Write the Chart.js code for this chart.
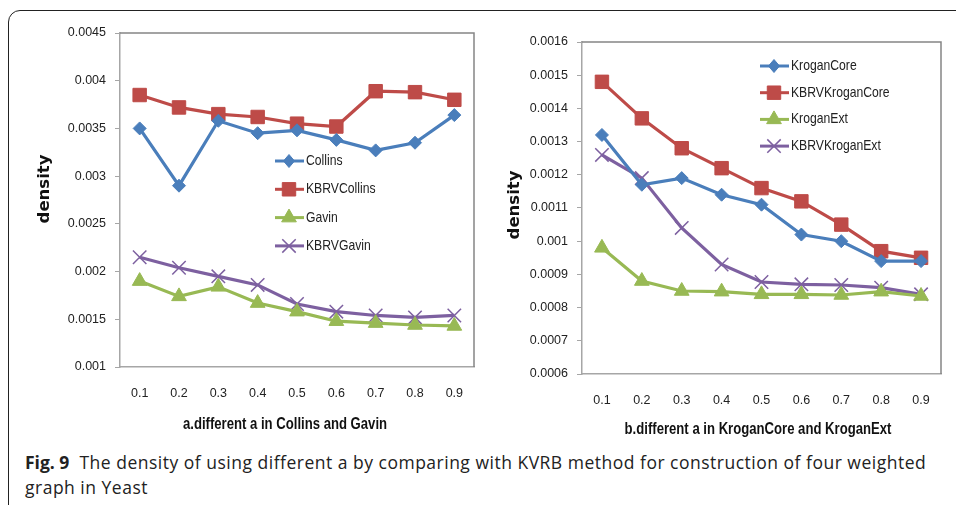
<!DOCTYPE html>
<html>
<head>
<meta charset="utf-8">
<script src="https://cdn.jsdelivr.net/npm/chart.js@4.4.1/dist/chart.umd.min.js"></script>
<style>
  body { margin: 0; width: 956px; height: 505px; overflow: hidden; background: #fff; position: relative; }
  #frame { position: absolute; left: 8px; top: 10px; width: 1000px; height: 600px; border: 1.5px solid #222; border-radius: 12px; }
  #left { position: absolute; left: 10px; top: 12px; }
  #right { position: absolute; left: 490px; top: 12px; }
  #caption { position: absolute; left: 25px; top: 450px; font-family: "Open Sans", sans-serif; font-size: 17.5px; line-height: 25px; color: #222; white-space: nowrap; letter-spacing: 0.5px; }
  #caption b { font-weight: 700; letter-spacing: 0; }
</style>
</head>
<body>
<div id="frame"></div>
<canvas id="left" width="475" height="430"></canvas>
<canvas id="right" width="462" height="436"></canvas>
<div id="caption"><b>Fig. 9</b>&nbsp; The density of using different a by comparing with KVRB method for construction of four weighted<br>graph in Yeast</div>
<script>
const aValues = ["0.1", "0.2", "0.3", "0.4", "0.5", "0.6", "0.7", "0.8", "0.9"];

const collins = [0.0035, 0.0029, 0.00358, 0.00345, 0.00348, 0.00338, 0.00327, 0.00335, 0.00364];
const kbrvCollins = [0.00385, 0.00372, 0.00365, 0.00362, 0.00355, 0.00352, 0.00389, 0.00388, 0.0038];
const gavin = [0.0019, 0.00174, 0.00184, 0.00167, 0.00158, 0.00148, 0.00146, 0.00144, 0.00143];
const kbrvGavin = [0.00215, 0.00204, 0.00195, 0.00186, 0.00166, 0.00158, 0.00154, 0.00152, 0.00154];

const kroganCore = [0.00132, 0.00117, 0.00119, 0.00114, 0.00111, 0.00102, 0.001, 0.00094, 0.00094];
const kbrvKroganCore = [0.00148, 0.00137, 0.00128, 0.00122, 0.00116, 0.00112, 0.00105, 0.00097, 0.00095];
const kroganExt = [0.00098, 0.00088, 0.00085, 0.000848, 0.00084, 0.00084, 0.000838, 0.000848, 0.000835];
const kbrvKroganExt = [0.00126, 0.00119, 0.00104, 0.00093, 0.000877, 0.00087, 0.000868, 0.00086, 0.00084];

const leftYTicks = [0.001, 0.0015, 0.002, 0.0025, 0.003, 0.0035, 0.004, 0.0045];
const rightYTicks = [0.0006, 0.0007, 0.0008, 0.0009, 0.001, 0.0011, 0.0012, 0.0013, 0.0014, 0.0015, 0.0016];

const BLUE = "#4a7ebb", RED = "#be4b48", GREEN = "#98b954", PURPLE = "#7d60a0";
const tickFont = { family: "'Liberation Sans', Arial, sans-serif", size: 12.5 };

function marker(ctx, style, x, y, r) {
  ctx.beginPath();
  if (style === "rectRot") {
    ctx.moveTo(x, y - r); ctx.lineTo(x + r * 0.85, y); ctx.lineTo(x, y + r); ctx.lineTo(x - r * 0.85, y); ctx.closePath();
    ctx.fill(); ctx.stroke();
  } else if (style === "rect") {
    const s = r * Math.SQRT1_2;
    ctx.rect(x - s, y - s, 2 * s, 2 * s); ctx.fill(); ctx.stroke();
  } else if (style === "triangle") {
    ctx.moveTo(x, y - r); ctx.lineTo(x + r * 0.866, y + r * 0.5); ctx.lineTo(x - r * 0.866, y + r * 0.5); ctx.closePath();
    ctx.fill(); ctx.stroke();
  } else {
    const s = r * Math.SQRT1_2;
    ctx.moveTo(x - s, y - s); ctx.lineTo(x + s, y + s); ctx.moveTo(x + s, y - s); ctx.lineTo(x - s, y + s); ctx.stroke();
  }
}

// narrow text: squeeze the installed font to a Calibri-like width
function narrowText(ctx, text, x, y, squeeze) {
  ctx.fillText(text, x, y, ctx.measureText(text).width * squeeze);
}

// plot frame (top/right), inner legend and axis titles like the Excel original
const excelExtras = {
  id: "excelExtras",
  afterDatasetsDraw(chart, args, opts) {
    const { ctx, chartArea: a } = chart;
    ctx.save();
    ctx.strokeStyle = "#858585";
    ctx.lineWidth = 1.5;
    ctx.beginPath();
    ctx.moveTo(a.left, a.top); ctx.lineTo(a.right, a.top); ctx.lineTo(a.right, a.bottom);
    ctx.stroke();

    chart.data.datasets.forEach((ds, i) => {
      const y = opts.legendY + i * opts.legendGap;
      ctx.strokeStyle = ds.borderColor;
      ctx.lineWidth = 3;
      ctx.beginPath();
      ctx.moveTo(opts.legendX, y); ctx.lineTo(opts.legendX + 29, y);
      ctx.stroke();
      ctx.fillStyle = ds.pointBackgroundColor;
      ctx.strokeStyle = ds.pointBorderColor;
      ctx.lineWidth = ds.pointBorderWidth;
      marker(ctx, ds.pointStyle, opts.legendX + 14, y, ds.pointRadius);
      ctx.fillStyle = "#222";
      ctx.font = "14.5px 'Liberation Sans', sans-serif";
      ctx.textAlign = "left";
      ctx.textBaseline = "middle";
      narrowText(ctx, ds.label, opts.legendX + 31, y, 0.84);
    });

    ctx.fillStyle = "#111";
    ctx.font = "bold 16px 'Liberation Sans', sans-serif";
    ctx.textAlign = "center";
    ctx.textBaseline = "middle";
    narrowText(ctx, opts.xTitle, opts.titleX, opts.titleY, 0.82);

    ctx.translate(opts.yTitleX, opts.yTitleY);
    ctx.rotate(-Math.PI / 2);
    ctx.font = "bold 16.5px 'DejaVu Sans', sans-serif";
    ctx.fillText("density", 0, 0);
    ctx.restore();
  }
};

function series(label, data, color, style, radius, fill) {
  return {
    label, data,
    borderColor: color, borderWidth: 3.2,
    pointStyle: style, pointRadius: radius, pointHoverRadius: radius,
    pointBackgroundColor: fill, pointBorderColor: color,
    pointBorderWidth: style === "crossRot" ? 1.5 : 1,
    tension: 0, fill: false
  };
}

function makeChart(id, datasets, yTicks, yAxisWidth, xAxisHeight, padding, extras) {
  return new Chart(document.getElementById(id), {
    type: "line",
    data: { labels: aValues, datasets },
    options: {
      responsive: false,
      animation: false,
      layout: { padding },
      plugins: { legend: { display: false }, tooltip: { enabled: false }, excelExtras: extras },
      scales: {
        x: {
          type: "category",
          offset: true,
          grid: { display: false, drawTicks: false },
          border: { display: true, color: "#a6a6a6", width: 1.5 },
          ticks: { font: tickFont, color: "#222", padding: 19, maxRotation: 0 },
          afterFit: (s) => { s.height = xAxisHeight; }
        },
        y: {
          min: yTicks[0],
          max: yTicks[yTicks.length - 1],
          afterBuildTicks: (s) => { s.ticks = yTicks.map((v) => ({ value: v })); },
          grid: { drawOnChartArea: false, drawTicks: true, tickLength: 5, color: "#a6a6a6", lineWidth: 1 },
          border: { display: true, color: "#a6a6a6", width: 1.5 },
          ticks: { font: tickFont, color: "#222", padding: 9, callback: (v) => String(v) },
          afterFit: (s) => { s.width = yAxisWidth; }
        }
      }
    },
    plugins: [excelExtras]
  });
}

makeChart("left", [
  series("Collins", collins, BLUE, "rectRot", 6.5, BLUE),
  series("KBRVCollins", kbrvCollins, RED, "rect", 9.5, RED),
  series("Gavin", gavin, GREEN, "triangle", 8.5, GREEN),
  series("KBRVGavin", kbrvGavin, PURPLE, "crossRot", 9.5, PURPLE)
], leftYTicks, 110, 75, { top: 21, right: 3, left: 0, bottom: 0 },
  { legendX: 265, legendY: 149, legendGap: 28.3, xTitle: "a.different a in Collins and Gavin", titleX: 275, titleY: 413,
    yTitleX: 35, yTitleY: 177 });

makeChart("right", [
  series("KroganCore", kroganCore, BLUE, "rectRot", 6.5, BLUE),
  series("KBRVKroganCore", kbrvKroganCore, RED, "rect", 9.5, RED),
  series("KroganExt", kroganExt, GREEN, "triangle", 8.5, GREEN),
  series("KBRVKroganExt", kbrvKroganExt, PURPLE, "crossRot", 9.5, PURPLE)
], rightYTicks, 92, 74, { top: 30, right: 10, left: 0, bottom: 0 },
  { legendX: 270, legendY: 54, legendGap: 26.7, xTitle: "b.different a in KroganCore and KroganExt", titleX: 268, titleY: 418,
    yTitleX: 25, yTitleY: 193 });
</script>
</body>
</html>
